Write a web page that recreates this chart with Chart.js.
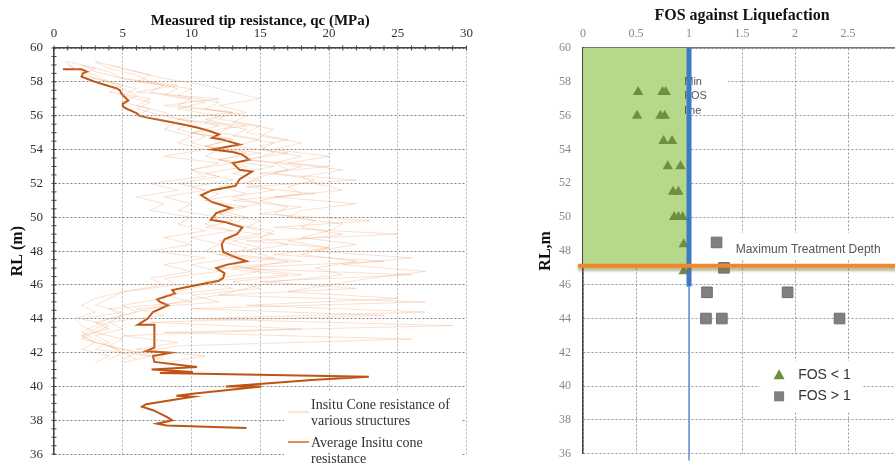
<!DOCTYPE html>
<html><head><meta charset="utf-8">
<script src="https://cdn.jsdelivr.net/npm/chart.js@4/dist/chart.umd.min.js"></script>
<style>
html,body{margin:0;padding:0;background:#fff;width:895px;height:473px;overflow:hidden;position:relative;}
#c1{position:absolute;left:0;top:0;}
#c2{position:absolute;left:500px;top:0;}
</style></head><body>
<canvas id="c1" width="480" height="473"></canvas>
<canvas id="c2" width="420" height="473"></canvas>
<script>
// ---------- tick labels ----------
const qcTicks = [0, 5, 10, 15, 20, 25, 30];
const rlTicks = [36, 38, 40, 42, 44, 46, 48, 50, 52, 54, 56, 58, 60];
const fosTicks = [0, 0.5, 1, 1.5, 2, 2.5, 3];

// ---------- left chart: average cone resistance ----------
const avgQc = [0.65,2.0,2.4,2.1,2.0,3.0,3.8,4.6,4.8,4.9,5.4,5.0,5.0,5.3,6.0,6.2,6.7,8.0,9.3,10.4,11.3,12.0,11.5,12.2,13.5,11.5,13.0,13.7,14.2,13.0,13.5,14.4,13.5,13.2,11.5,10.7,11.5,12.9,11.8,11.4,12.5,13.7,13.3,12.4,12.2,12.3,13.0,14.0,12.6,11.8,12.4,12.3,12.0,10.4,8.6,8.8,7.5,7.7,8.3,7.2,6.8,6.1,7.3,7.3,6.7,8.5,7.2,7.3,10.4,7.1,10.1,7.7,22.9,19.0,12.5,15.1,10.4,8.9,10.1,6.7,6.4,7.2,8.2,8.6,7.5,8.2,14.0];
const avgRL = [58.74,58.74,58.6,58.5,58.3,58.0,57.8,57.6,57.5,57.3,56.9,56.7,56.55,56.4,56.15,56.0,55.9,55.7,55.5,55.3,55.1,54.9,54.7,54.6,54.3,54.0,53.85,53.7,53.4,53.2,52.8,52.7,52.25,51.85,51.6,51.3,50.9,50.55,50.25,49.85,49.7,49.4,49.0,48.7,48.4,47.95,47.7,47.4,47.2,47.0,46.7,46.4,46.25,46.0,45.7,45.5,45.15,45.0,44.8,44.4,44.0,43.65,43.65,42.3,42.1,42.0,41.8,41.45,41.15,41.0,40.85,40.8,40.57,40.4,40.0,40.0,39.6,39.45,39.4,38.95,38.8,38.6,38.2,38.0,37.8,37.7,37.55];

// ---------- left chart: insitu cone resistance of various structures ----------
const depthsA = [59.2,58.8,58.4,58.0,57.6,57.2,56.8,56.4,56.0,55.6,55.2,54.8,54.4,54.0,53.6,53.2,52.8,52.4,52.0,51.6,51.2,50.8,50.4,50.0,49.6,49.2,48.8,48.4,48.0,47.6,47.2,46.8,46.4,46.0,45.6,45.2,44.8,44.4,44.0,43.6,43.2,42.8,42.4,42.0,41.6];
const depthsB = [59.0,58.6,58.2,57.8,57.4,57.0,56.6,56.2,55.8,55.4,55.0,54.6,54.2,53.8,53.4,53.0,52.6,52.2,51.8,51.4,51.0,50.6,50.2,49.8,49.4,49.0,48.6,48.2,47.8,47.4,47.0,46.6,46.2,45.8,45.4,45.0,44.6,44.2,43.8,43.4,43.0,42.6,42.2,41.8,41.4];
const struct1 = [3,5,7,6,10,9,12,11,14,13,16,15,18,16,20,17,21,18,19,21,16,22,18,17,21,20,18,22,19,26,21,27,23,20,17,25,14,27,10,29,8,26,9,6,5];
const struct2 = [1,2,3,5,4,7,6,8,9,12,10,13,11,14,12,16,13,15,12,14,11,13,12,15,14,16,13,15,12,17,14,18,13,15,10,12,6,8,4,5,3,4,3,7,5];
const struct3 = [1,3,2,4,6,5,7,6,8,10,9,11,10,12,11,13,10,12,9,11,8,10,9,12,11,13,10,12,11,13,10,12,8,9,5,4,3,5,2,4,3,5,4,6,8];
const struct4 = [2,4,5,8,7,10,9,13,12,15,14,17,15,16,14,18,16,19,17,18,15,17,16,19,18,21,17,20,18,22,19,21,16,14,12,9,7,5,4,3,2,3,2,4,3];
const struct5 = [0.8,1.5,3,4,5,6,5,7,6,9,8,10,9,11,8,12,10,11,7,9,6,8,7,10,9,11,8,10,7,11,8,10,7,8,5,3,2,3,1.5,2,3,2,4,5,4];
const struct6 = [4,6,8,11,13,15,12,14,11,13,12,15,13,17,14,20,15,22,14,19,13,18,15,23,16,25,14,20,16,24,13,26,15,22,12,27,10,24,7,18,5,9,6,11,8];
const struct7 = [3,4,6,7,9,8,11,9,12,11,14,13,16,15,18,16,17,15,14,16,13,15,12,14,13,16,15,17,14,16,13,15,12,11,9,8,5,6,4,3,2,3,4,5,6];
const struct8 = [2,3,5,9,6,12,8,13,9,14,10,13,11,15,12,14,11,13,10,12,11,14,12,13,11,15,12,14,13,18,12,17,11,13,8,10,4,5,3,4,2,3,5,8,7];

// ---------- right chart: FOS against liquefaction ----------
const fosLow = [0.52,0.75,0.78,0.51,0.73,0.77,0.76,0.84,0.80,0.92,0.85,0.90,0.86,0.90,0.94,0.95,0.95];
const rlLow  = [57.4,57.4,57.4,56.0,56.0,56.0,54.5,54.5,53.0,53.0,51.5,51.5,50.0,50.0,50.0,48.4,46.8];
const fosHigh = [1.26,1.33,1.17,1.93,1.16,1.31,2.42];
const rlHigh  = [48.5,47.0,45.55,45.55,44.0,44.0,44.0];
const minFos = 1.0;
const treatmentRL = 47.12;

// ---------- helpers ----------
const SERIF = "'Liberation Serif','Times New Roman',serif";
const SANS = "'Liberation Sans',Arial,sans-serif";
const pts = (xs, ys) => xs.map((v, i) => ({x: v, y: ys[i]}));
const setTicks = arr => scale => { scale.ticks = arr.map(v => ({value: v})); };

// ---------- left chart ----------
const structs = [[struct1,depthsA],[struct2,depthsB],[struct3,depthsA],[struct4,depthsB],[struct5,depthsA],[struct6,depthsB],[struct7,depthsA],[struct8,depthsB]];
const faintSets = structs.map(([q, d]) => ({
  data: pts(q, d), showLine: true, pointRadius: 0,
  borderColor: 'rgba(240,155,100,0.30)', borderWidth: 1, tension: 0
}));

const leftExtras = {
  id: 'leftExtras',
  afterDraw(chart) {
    const {ctx, scales: {x, y}, chartArea: a} = chart;
    ctx.save();
    ctx.strokeStyle = '#444'; ctx.lineWidth = 1;
    ctx.beginPath();
    for (let v = 0; v <= 30; v += 1) { const px = x.getPixelForValue(v); ctx.moveTo(px, a.top - 2.5); ctx.lineTo(px, a.top + 2.5); }
    for (let v = 36; v <= 60; v += 0.5) { const py = y.getPixelForValue(v); ctx.moveTo(a.left - 2.5, py); ctx.lineTo(a.left + 2.5, py); }
    ctx.stroke();
    // legend
    ctx.fillStyle = '#fff';
    ctx.fillRect(284, 392, 178, 70);
    ctx.lineWidth = 2;
    ctx.strokeStyle = 'rgba(240,150,95,0.25)';
    ctx.beginPath(); ctx.moveTo(288, 412); ctx.lineTo(309, 412); ctx.stroke();
    ctx.strokeStyle = 'rgb(228,140,85)';
    ctx.beginPath(); ctx.moveTo(288, 442); ctx.lineTo(309, 442); ctx.stroke();
    ctx.fillStyle = '#333'; ctx.font = '14px ' + SERIF; ctx.textBaseline = 'middle'; ctx.textAlign = 'left';
    ctx.fillText('Insitu Cone resistance of', 311, 405);
    ctx.fillText('various structures', 311, 421);
    ctx.fillText('Average Insitu cone', 311, 443);
    ctx.fillText('resistance', 311, 459);
    ctx.restore();
  }
};

new Chart(document.getElementById('c1'), {
  type: 'scatter',
  data: { datasets: [...faintSets, {
    data: pts(avgQc, avgRL), showLine: true, pointRadius: 0,
    borderColor: 'rgb(190,85,20)', borderWidth: 2, tension: 0
  }]},
  options: {
    responsive: false, animation: false, devicePixelRatio: 1,
    layout: { padding: { left: 0, right: 12, top: 0, bottom: 7 } },
    plugins: { legend: { display: false }, tooltip: { enabled: false } },
    scales: {
      x: {
        type: 'linear', position: 'top', min: 0, max: 30,
        afterBuildTicks: setTicks(qcTicks),
        afterFit: s => { s.height = 48; },
        grid: { color: '#b0b0b0', lineWidth: 1, drawTicks: false },
        border: { display: true, color: '#444', width: 1.5, dash: [2, 2] },
        ticks: { padding: 7, color: '#333', font: { family: SERIF, size: 13 }, maxRotation: 0 },
        title: { display: true, text: 'Measured tip resistance, qc (MPa)', color: '#111',
                 font: { family: SERIF, size: 15, weight: 'bold' }, padding: { top: 12, bottom: 0 } }
      },
      y: {
        type: 'linear', min: 36, max: 60,
        afterBuildTicks: setTicks(rlTicks),
        afterFit: s => { s.width = 54; },
        grid: { color: '#808080', lineWidth: 1, drawTicks: false },
        border: { display: true, color: '#444', width: 1.5, dash: [2, 2] },
        ticks: { padding: 11, color: '#333', font: { family: SERIF, size: 13 } },
        title: { display: true, text: 'RL (m)', color: '#111',
                 font: { family: SERIF, size: 16, weight: 'bold' }, padding: { top: 8, bottom: 0 } }
      }
    }
  },
  plugins: [leftExtras]
});

// ---------- right chart ----------
const rightUnder = {
  id: 'rightUnder',
  beforeDatasetsDraw(chart) {
    const {ctx, scales: {x, y}} = chart;
    const X = v => x.getPixelForValue(v), Y = v => y.getPixelForValue(v);
    ctx.save();
    ctx.fillStyle = '#fff';
    ctx.fillRect(X(0.9), Y(58.4), X(1.37) - X(0.9), Y(56.5) - Y(58.4));
    ctx.fillRect(X(1.0), Y(49.05), X(2.95) - X(1.0), Y(47.5) - Y(49.05));
    ctx.fillRect(X(1.67), Y(41.5), X(2.64) - X(1.67), Y(38.45) - Y(41.5));
    ctx.fillStyle = 'rgb(181,216,139)';
    ctx.fillRect(X(0), Y(60), X(minFos) - X(0), Y(47.0) - Y(60));
    ctx.restore();
  },
  afterDatasetsDraw(chart) {
    const {ctx, scales: {x, y}, chartArea: a} = chart;
    const X = v => x.getPixelForValue(v), Y = v => y.getPixelForValue(v);
    ctx.save();
    // Min FOS line label
    ctx.fillStyle = '#555'; ctx.font = '11px ' + SANS; ctx.textBaseline = 'middle'; ctx.textAlign = 'left';
    ctx.fillText('Min', X(0.955), Y(58.0));
    ctx.fillText('FOS', X(0.955), Y(57.15));
    ctx.fillText('line', X(0.955), Y(56.27));
    // blue min FOS line
    ctx.strokeStyle = 'rgb(61,122,198)'; ctx.lineWidth = 5;
    ctx.beginPath(); ctx.moveTo(X(minFos), Y(60)); ctx.lineTo(X(minFos), Y(45.9)); ctx.stroke();
    ctx.strokeStyle = 'rgb(95,145,212)'; ctx.lineWidth = 1.5;
    ctx.beginPath(); ctx.moveTo(X(minFos), Y(45.9)); ctx.lineTo(X(minFos), Y(35.6)); ctx.stroke();
    // orange treatment depth line
    ctx.shadowColor = 'rgba(120,110,40,0.55)'; ctx.shadowOffsetY = 3; ctx.shadowBlur = 3;
    ctx.strokeStyle = 'rgb(240,134,46)'; ctx.lineWidth = 4;
    ctx.beginPath(); ctx.moveTo(a.left - 5, Y(treatmentRL)); ctx.lineTo(chart.width, Y(treatmentRL)); ctx.stroke();
    ctx.shadowColor = 'transparent'; ctx.shadowOffsetY = 0; ctx.shadowBlur = 0;
    ctx.fillStyle = '#555'; ctx.font = '12px ' + SANS;
    ctx.fillText('Maximum Treatment Depth', X(1.44), Y(48.1));
    // legend
    const lx = X(1.85), ly1 = Y(40.65), ly2 = Y(39.4);
    ctx.fillStyle = 'rgb(112,142,62)';
    ctx.beginPath(); ctx.moveTo(lx, ly1 - 6); ctx.lineTo(lx + 5.5, ly1 + 4); ctx.lineTo(lx - 5.5, ly1 + 4); ctx.closePath(); ctx.fill();
    ctx.fillStyle = 'rgb(128,128,128)';
    ctx.fillRect(lx - 5, ly2 - 5, 10, 10);
    ctx.fillStyle = '#333'; ctx.font = '14px ' + SANS;
    ctx.fillText('FOS < 1', X(2.03), ly1);
    ctx.fillText('FOS > 1', X(2.03), ly2);
    ctx.restore();
  }
};

new Chart(document.getElementById('c2'), {
  type: 'scatter',
  data: { datasets: [
    { label: 'FOS < 1', data: pts(fosLow, rlLow), pointStyle: 'triangle', pointRadius: 6,
      backgroundColor: 'rgb(112,142,62)', borderColor: 'rgb(112,142,62)', borderWidth: 0 },
    { label: 'FOS > 1', data: pts(fosHigh, rlHigh), pointStyle: 'rect', pointRadius: 7.5,
      backgroundColor: 'rgb(128,128,128)', borderColor: 'rgb(110,110,110)', borderWidth: 1 }
  ]},
  options: {
    responsive: false, animation: false, devicePixelRatio: 1,
    layout: { padding: { left: 0, right: 19, top: 0, bottom: 13 } },
    plugins: { legend: { display: false }, tooltip: { enabled: false } },
    scales: {
      x: {
        type: 'linear', position: 'top', min: 0, max: 3,
        afterBuildTicks: setTicks(fosTicks),
        afterFit: s => { s.height = 48; },
        grid: { color: '#999', lineWidth: 1, drawTicks: false },
        border: { display: true, color: '#777', width: 1.5, dash: [2, 2] },
        ticks: { padding: 7, color: '#888', font: { family: SERIF, size: 12 }, maxRotation: 0,
                 callback: v => String(v) },
        title: { display: true, text: 'FOS against Liquefaction', color: '#111',
                 font: { family: SERIF, size: 16, weight: 'bold' }, padding: { top: 6, bottom: 0 } }
      },
      y: {
        type: 'linear', min: 36, max: 60,
        afterBuildTicks: setTicks(rlTicks),
        afterFit: s => { s.width = 83; },
        grid: { color: '#999', lineWidth: 1, drawTicks: false },
        border: { display: true, color: '#444', width: 1.5, dash: [2, 2] },
        ticks: { padding: 12, color: '#888', font: { family: SERIF, size: 12 } },
        title: { display: true, text: 'RL,m', color: '#111',
                 font: { family: SERIF, size: 16, weight: 'bold' }, padding: { top: 36, bottom: 0 } }
      }
    }
  },
  plugins: [rightUnder]
});
</script>
</body></html>
